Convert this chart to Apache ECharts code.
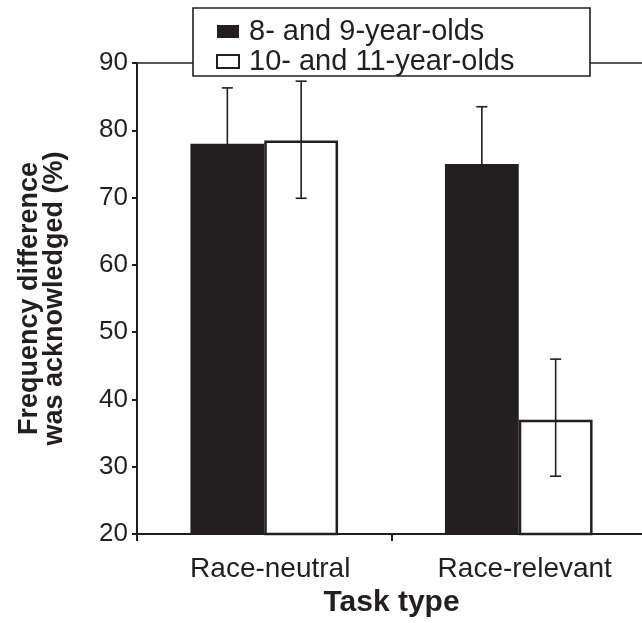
<!DOCTYPE html>
<html>
<head>
<meta charset="utf-8">
<script src="https://cdn.jsdelivr.net/npm/echarts@6/dist/echarts.min.js"></script>
<style>html,body{margin:0;padding:0;background:#fff;overflow:hidden}#c{width:662px;height:623px}</style>
</head>
<body>
<div id="c"></div>
<script>
const categories = ['Race-neutral', 'Race-relevant'];
const seriesNames = ['8- and 9-year-olds', '10- and 11-year-olds'];
const youngValues = [78.0, 75.0];
const youngErrLow = [69.7, 66.5];
const youngErrHigh = [86.3, 83.5];
const olderValues = [78.5, 37.0];
const olderErrLow = [69.9, 28.6];
const olderErrHigh = [87.3, 46.0];
const yTicks = [20, 30, 40, 50, 60, 70, 80, 90];

const INK = '#231f20';
const FONT = 'Liberation Sans, Arial, sans-serif';
const BAR_FRAC = 0.29;

function errorSeries(name, low, high, side) {
  return {
    name: name,
    type: 'custom',
    z: 5,
    data: categories.map((c, i) => [i, low[i], high[i]]),
    encode: { x: 0, y: [1, 2] },
    renderItem: function (params, api) {
      const cat = api.value(0);
      const lo = api.coord([cat, api.value(1)]);
      const hi = api.coord([cat, api.value(2)]);
      const bw = api.size([1, 0])[0] * BAR_FRAC;
      const x = lo[0] + side * bw / 2;
      const cap = 5.5;
      const st = { stroke: INK, lineWidth: 1.6 };
      return {
        type: 'group',
        children: [
          { type: 'line', shape: { x1: x, y1: lo[1], x2: x, y2: hi[1] }, style: st },
          { type: 'line', shape: { x1: x - cap, y1: hi[1], x2: x + cap, y2: hi[1] }, style: st },
          { type: 'line', shape: { x1: x - cap, y1: lo[1], x2: x + cap, y2: lo[1] }, style: st }
        ]
      };
    }
  };
}

const chart = echarts.init(document.getElementById('c'), null, { renderer: 'canvas' });
chart.setOption({
  animation: false,
  backgroundColor: '#fff',
  textStyle: { fontFamily: FONT, color: INK },
  grid: {
    left: 137, right: 16, top: 63, bottom: 85,
    show: true, borderColor: INK, borderWidth: 1.5, backgroundColor: 'transparent'
  },
  graphic: [{
    type: 'rect',
    z: 50,
    shape: { x: 193, y: 8, width: 397, height: 68 },
    style: { fill: '#fff', stroke: INK, lineWidth: 1.6 }
  }],
  legend: {
    z: 100,
    data: seriesNames,
    orient: 'vertical',
    left: 216,
    top: 17,
    padding: 0,
    itemGap: 1,
    itemWidth: 22,
    itemHeight: 13,
    icon: 'rect',
    textStyle: { fontFamily: FONT, fontSize: 29, color: INK, lineHeight: 28, padding: [0, 0, 0, 5] }
  },
  xAxis: {
    type: 'category',
    data: categories,
    boundaryGap: true,
    name: 'Task type',
    nameLocation: 'middle',
    nameGap: 48,
    nameTextStyle: { fontFamily: FONT, fontSize: 30, fontWeight: 'bold', color: INK },
    axisLine: { lineStyle: { color: INK, width: 2 } },
    axisTick: { show: true, length: 7, inside: false, lineStyle: { color: INK, width: 2 } },
    axisLabel: { fontFamily: FONT, fontSize: 28, color: INK, margin: 21, padding: [0, 0, 0, 12] },
    splitLine: { show: false }
  },
  yAxis: {
    type: 'value',
    min: yTicks[0],
    max: yTicks[yTicks.length - 1],
    interval: 10,
    name: 'Frequency difference\nwas acknowledged (%)',
    nameLocation: 'middle',
    nameRotate: 90,
    nameGap: 70,
    nameTextStyle: { fontFamily: FONT, fontSize: 27, fontWeight: 'bold', color: INK, lineHeight: 25 },
    axisLine: { show: true, lineStyle: { color: INK, width: 2 } },
    axisTick: { show: true, length: 5, inside: false, lineStyle: { color: INK, width: 2 } },
    axisLabel: { fontFamily: FONT, fontSize: 26, color: INK, margin: 9 },
    splitLine: { show: false }
  },
  series: [
    {
      name: seriesNames[0],
      type: 'bar',
      data: youngValues,
      barWidth: (BAR_FRAC * 100) + '%',
      barGap: '0%',
      itemStyle: { color: INK, borderColor: INK, borderWidth: 0 },
      z: 2
    },
    {
      name: seriesNames[1],
      type: 'bar',
      data: olderValues,
      barWidth: (BAR_FRAC * 100) + '%',
      barGap: '0%',
      itemStyle: { color: '#fff', borderColor: INK, borderWidth: 2.5 },
      z: 2
    },
    errorSeries('err-young', youngErrLow, youngErrHigh, -1),
    errorSeries('err-older', olderErrLow, olderErrHigh, 1)
  ]
});
</script>
</body>
</html>
